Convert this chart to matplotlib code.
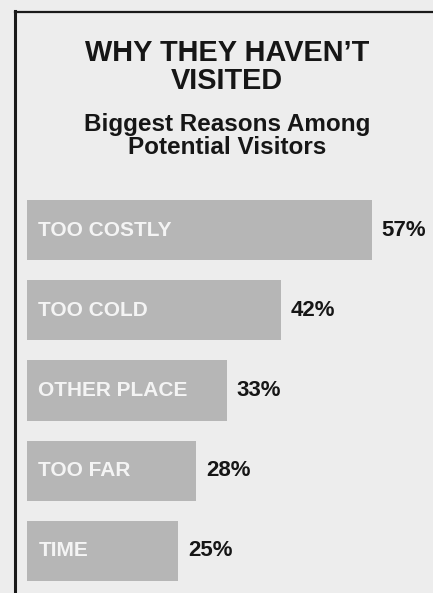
import matplotlib
matplotlib.use("Agg")
import matplotlib.pyplot as plt
from matplotlib.lines import Line2D

categories = ["TOO COSTLY", "TOO COLD", "OTHER PLACE", "TOO FAR", "TIME"]
values = [57, 42, 33, 28, 25]
value_labels = ["57%", "42%", "33%", "28%", "25%"]

W, H = 433, 593
fig = plt.figure(figsize=(W / 100, H / 100), dpi=100)
fig.patch.set_facecolor("#ededed")

FONT = "Liberation Sans"

# border lines
fig.add_artist(Line2D([15 / W, 15 / W], [0, 1 - 11 / H], color="#1a1a1a", lw=2.2,
                      transform=fig.transFigure))
fig.add_artist(Line2D([15 / W, 1], [1 - 12 / H, 1 - 12 / H], color="#1a1a1a", lw=1.6,
                      transform=fig.transFigure))

# titles
cx = 227 / W
fig.text(cx, 1 - 53 / H, "WHY THEY HAVEN\u2019T", ha="center", va="center",
         fontsize=20.8, fontweight="bold", family=FONT, color="#161616")
fig.text(cx, 1 - 81 / H, "VISITED", ha="center", va="center",
         fontsize=20.8, fontweight="bold", family=FONT, color="#161616")
fig.text(cx, 1 - 124 / H, "Biggest Reasons Among", ha="center", va="center",
         fontsize=17.5, fontweight="bold", family=FONT, color="#161616")
fig.text(cx, 1 - 147 / H, "Potential Visitors", ha="center", va="center",
         fontsize=17.5, fontweight="bold", family=FONT, color="#161616")

# bar axes
left_px, right_px = 27, 433
top_px, bot_px = 190, 591
ax = fig.add_axes([left_px / W, 1 - bot_px / H, (right_px - left_px) / W, (bot_px - top_px) / H])
ax.set_facecolor("none")
px_per_pct = 6.05
ax.set_xlim(0, (right_px - left_px) / px_per_pct)
ax.set_ylim(len(categories) - 0.5, -0.5)
ax.axis("off")

ypos = list(range(len(categories)))
ax.barh(ypos, values, height=0.75, color="#b6b6b6", edgecolor="none")

for y, v, cat, lab in zip(ypos, values, categories, value_labels):
    ax.text(1.9, y, cat, ha="left", va="center", fontsize=15, fontweight="bold",
            family=FONT, color="#f4f4f4")
    ax.text(v + 1.6, y, lab, ha="left", va="center", fontsize=16, fontweight="bold",
            family=FONT, color="#161616")

fig.savefig("out.png", dpi=100, facecolor=fig.get_facecolor())
